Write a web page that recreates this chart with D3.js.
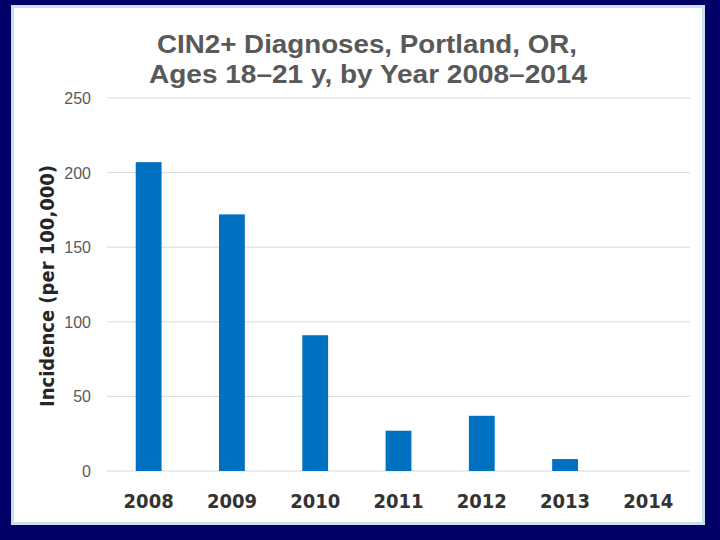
<!DOCTYPE html>
<html><head><meta charset="utf-8">
<script src="https://cdn.jsdelivr.net/npm/d3@7"></script>
<style>html,body{margin:0;padding:0;background:#000066;}</style>
</head><body>
<script>
const years = ["2008","2009","2010","2011","2012","2013","2014"];
const incidence = [207, 172, 91, 27, 37, 8, 0];
const yTicks = [0, 50, 100, 150, 200, 250];
const titleLines = ["CIN2+ Diagnoses, Portland, OR,", "Ages 18\u201321 y, by Year 2008\u20132014"];
const yLabel = "Incidence (per 100,000)";

const W = 720, H = 540;
const svg = d3.select("body").append("svg").attr("width", W).attr("height", H);
svg.append("rect").attr("width", W).attr("height", H).attr("fill", "#000066");
svg.append("rect").attr("x", 12.5).attr("y", 6.5).attr("width", 691).attr("height", 517)
  .attr("fill", "#ffffff").attr("stroke", "#c5e3ee").attr("stroke-width", 3);

const m = {left: 107, right: 690, top: 98, bottom: 471};
const x = d3.scaleBand().domain(years).range([m.left, m.right]).paddingInner(0.69).paddingOuter(0.345);
const y = d3.scaleLinear().domain([0, 250]).range([m.bottom, m.top]);

const g = svg.append("g");
g.selectAll("line.grid").data(yTicks).join("line")
  .attr("x1", m.left).attr("x2", m.right)
  .attr("y1", d => y(d)).attr("y2", d => y(d))
  .attr("stroke", "#d9d9d9").attr("stroke-width", 1);

g.selectAll("text.yt").data(yTicks).join("text")
  .attr("x", 91).attr("y", d => y(d) + 6)
  .attr("text-anchor", "end")
  .attr("font-family", "Liberation Sans, Arial, sans-serif").attr("font-size", 16)
  .attr("fill", "#595959").text(d => d);

g.selectAll("rect.bar").data(years).join("rect")
  .attr("x", d => x(d)).attr("width", x.bandwidth())
  .attr("y", (d, i) => y(incidence[i]))
  .attr("height", (d, i) => y(0) - y(incidence[i]))
  .attr("fill", "#0070c0");

g.selectAll("text.xt").data(years).join("text")
  .attr("x", d => x(d) + x.bandwidth() / 2).attr("y", 508)
  .attr("text-anchor", "middle")
  .attr("font-family", "DejaVu Sans Condensed, Liberation Sans Narrow, sans-serif")
  .attr("font-weight", "bold").attr("font-size", 20)
  .attr("fill", "#333333").text(d => d);

const titleX = [[157, 420], [149, 438]];
svg.selectAll("text.title").data(titleLines).join("text")
  .attr("x", (d, i) => titleX[i][0]).attr("y", (d, i) => 52.5 + i * 30.8)
  .attr("textLength", (d, i) => titleX[i][1]).attr("lengthAdjust", "spacingAndGlyphs")
  .attr("font-family", "Liberation Sans, Arial, sans-serif")
  .attr("font-weight", "bold").attr("font-size", 25)
  .attr("fill", "#595959").text(d => d);

svg.append("text")
  .attr("transform", "translate(54,286) rotate(-90)")
  .attr("text-anchor", "middle")
  .attr("font-family", "DejaVu Sans Condensed, Liberation Sans Narrow, sans-serif")
  .attr("font-weight", "bold").attr("font-size", 20)
  .attr("fill", "#262626").text(yLabel);
</script>
</body></html>
